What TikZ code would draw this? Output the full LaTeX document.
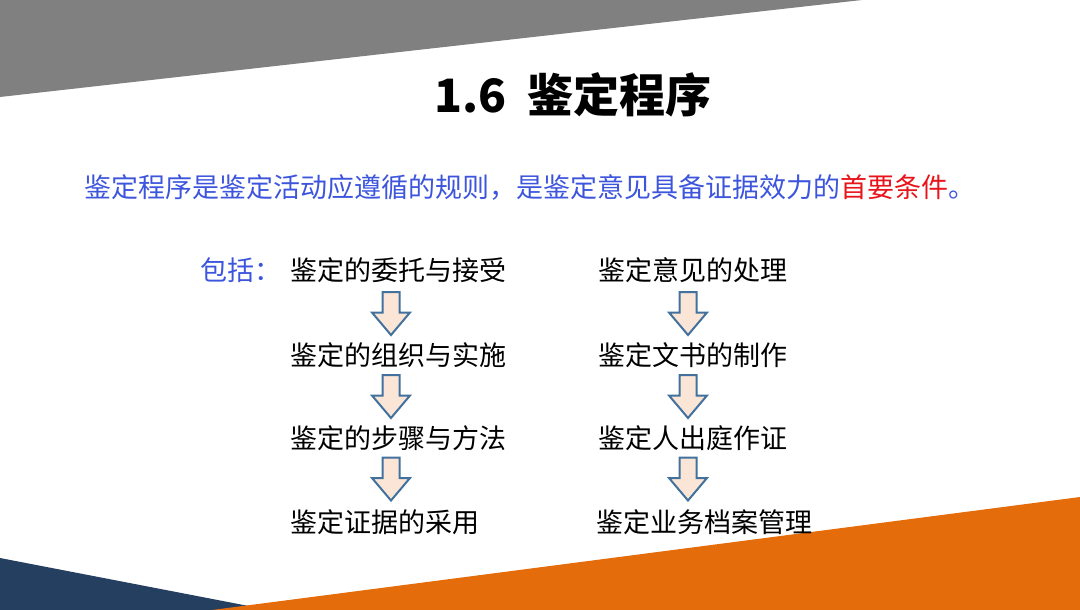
\documentclass[tikz,border=0pt]{standalone}
\usepackage{fontspec}
\setmainfont{Noto Sans CJK SC}
\definecolor{bandgray}{HTML}{808080}
\definecolor{bandnavy}{HTML}{243F60}
\definecolor{bandorange}{HTML}{E46C0A}
\definecolor{leadblue}{HTML}{3D55DD}
\definecolor{leadred}{HTML}{E8141B}
\definecolor{arrowline}{HTML}{41719C}
\definecolor{arrowfill}{HTML}{FBE5D6}
\tikzset{
  stepitem/.style={anchor=west,inner sep=0pt,font=\fontsize{27}{27}\selectfont},
  downblock/.pic={
    \draw[draw=arrowline,fill=arrowfill,line width=2pt,line join=miter]
      (-8.5,-21.5) -- (8.5,-21.5) -- (8.5,-1) -- (19,-1) -- (0,21.5)
      -- (-19,-1) -- (-8.5,-1) -- cycle;
  }
}
\begin{document}
\begin{tikzpicture}[x=1pt,y=-1pt]
\useasboundingbox (0,0) rectangle (1080,610);
% background bands
\fill[bandgray] (0,0) -- (862,0) -- (0,97) -- cycle;
\fill[bandnavy] (0,558) -- (285,613) -- (0,610) -- cycle;
\fill[bandorange] (212,610) -- (1080,497) -- (1080,610) -- cycle;
% title and lead sentence
\node[font=\fontsize{46}{46}\selectfont\bfseries] (title) at (573,95) {1.6\ \ 鉴定程序};
\node[anchor=west,inner sep=0pt,font=\fontsize{27}{27}\selectfont,text=leadblue] (lead) at (84,187)
  {鉴定程序是鉴定活动应遵循的规则，是鉴定意见具备证据效力的\textcolor{leadred}{首要条件}。};
% the two columns
\node[stepitem,text=leadblue] (incl) at (200,270) {包括：};
\node[stepitem] (l1) at (290,270) {鉴定的委托与接受};
\node[stepitem] (l2) at (290,355) {鉴定的组织与实施};
\node[stepitem] (l3) at (290,438) {鉴定的步骤与方法};
\node[stepitem] (l4) at (290,522) {鉴定证据的采用};
\node[stepitem] (r1) at (598,270) {鉴定意见的处理};
\node[stepitem] (r2) at (598,355) {鉴定文书的制作};
\node[stepitem] (r3) at (598,438) {鉴定人出庭作证};
\node[stepitem] (r4) at (596,522) {鉴定业务档案管理};
% arrows between the steps
\pic (la1) at (391,313.5) {downblock};
\pic (la2) at (391,396.5) {downblock};
\pic (la3) at (391,479) {downblock};
\pic (ra1) at (688,313.5) {downblock};
\pic (ra2) at (688,396.5) {downblock};
\pic (ra3) at (688,479) {downblock};
\end{tikzpicture}
\end{document}
